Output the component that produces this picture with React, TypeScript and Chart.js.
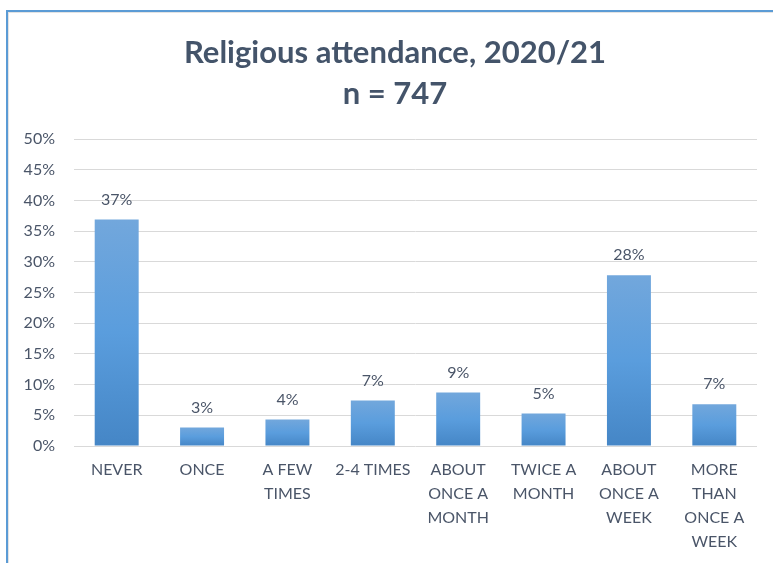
import React, { useEffect, useRef } from "react";
import { Chart, registerables } from "chart.js";

Chart.register(...registerables);

const TITLE_LINES = ["Religious attendance, 2020/21", "n = 747"];
const CATEGORIES: string[][] = [
  ["NEVER"],
  ["ONCE"],
  ["A FEW", "TIMES"],
  ["2-4 TIMES"],
  ["ABOUT", "ONCE A", "MONTH"],
  ["TWICE A", "MONTH"],
  ["ABOUT", "ONCE A", "WEEK"],
  ["MORE", "THAN", "ONCE A", "WEEK"],
];
const VALUES = [36.9, 3.0, 4.3, 7.4, 8.7, 5.3, 27.8, 6.8];
const VALUE_LABELS = ["37%", "3%", "4%", "7%", "9%", "5%", "28%", "7%"];
const Y_MAX = 50;
const Y_STEP = 5;

const FONT = "Lato, 'Open Sans', sans-serif";
const TEXT = "#4a5568";
const TITLE_COLOR = "#44546a";

const dataLabels = {
  id: "dataLabels",
  afterDatasetsDraw(chart: any) {
    const { ctx } = chart;
    const meta = chart.getDatasetMeta(0);
    ctx.save();
    ctx.font = `16px ${FONT}`;
    ctx.fillStyle = TEXT;
    ctx.textAlign = "center";
    ctx.textBaseline = "middle";
    meta.data.forEach((el: any, i: number) => {
      ctx.fillText(VALUE_LABELS[i], el.x, el.y - 20);
    });
    ctx.restore();
  },
};

const chartTitle = {
  id: "chartTitle",
  afterDraw(chart: any) {
    const { ctx } = chart;
    ctx.save();
    ctx.font = `bold 31px ${FONT}`;
    ctx.fillStyle = TITLE_COLOR;
    ctx.textAlign = "center";
    ctx.textBaseline = "middle";
    TITLE_LINES.forEach((t, i) => {
      ctx.fillText(t, 387, 40.5 + i * 41);
    });
    ctx.restore();
  },
};

export default function App() {
  const ref = useRef<HTMLCanvasElement>(null);
  useEffect(() => {
    if (!ref.current) return;
    const chart = new Chart(ref.current, {
      type: "bar",
      data: {
        labels: CATEGORIES as any,
        datasets: [
          {
            data: VALUES,
            backgroundColor: (c: any) => {
              const ch = c.chart;
              if (c.type !== "data" || !ch.scales || !ch.scales.y) return "#5b9bd5";
              const y = ch.scales.y;
              const top = y.getPixelForValue(c.parsed.y);
              const base = y.getPixelForValue(0);
              if (!isFinite(top) || !isFinite(base) || top === base) return "#5b9bd5";
              const g = ch.ctx.createLinearGradient(0, top, 0, base);
              g.addColorStop(0, "#72a7dc");
              g.addColorStop(0.5, "#5a9ddd");
              g.addColorStop(1, "#4586c6");
              return g;
            },
            borderWidth: 0,
            barPercentage: 1,
            categoryPercentage: 0.515,
          },
        ],
      },
      options: {
        responsive: false,
        animation: false,
        layout: { padding: { left: 6, right: 19, top: 127, bottom: 5 } },
        plugins: {
          legend: { display: false },
          tooltip: { enabled: false },
          title: { display: false },
        },
        scales: {
          x: {
            grid: { display: false },
            border: { display: false },
            ticks: {
              color: TEXT,
              font: { family: FONT, size: 16, lineHeight: 1.5 },
              maxRotation: 0,
              autoSkip: false,
              padding: 4,
            },
          },
          y: {
            min: 0,
            max: Y_MAX,
            afterFit: (s: any) => {
              s.width = 60;
            },
            grid: { color: "#d9d9d9", lineWidth: 1, drawTicks: false },
            border: { display: false },
            ticks: {
              stepSize: Y_STEP,
              color: TEXT,
              font: { family: FONT, size: 16 },
              padding: 19,
              callback: (v: any) => `${v}%`,
            },
          },
        },
      },
      plugins: [dataLabels, chartTitle],
    });
    return () => chart.destroy();
  }, []);

  return (
    <div
      style={{
        position: "fixed",
        left: 0,
        top: 0,
        width: 773,
        height: 563,
        overflow: "hidden",
        background: "#fff",
      }}
    >
      <div
        style={{
          position: "absolute",
          left: 6,
          top: 10,
          width: 800,
          height: 600,
          borderTop: "2px solid #5b9bd5",
          borderLeft: "2px solid #5b9bd5",
          boxShadow: "inset 1px 1px 0 #e3e3e3",
        }}
      >
        <canvas
          ref={ref}
          width={768}
          height={551}
          style={{ position: "absolute", left: 0, top: 0, width: 768, height: 551 }}
        />
      </div>
    </div>
  );
}
